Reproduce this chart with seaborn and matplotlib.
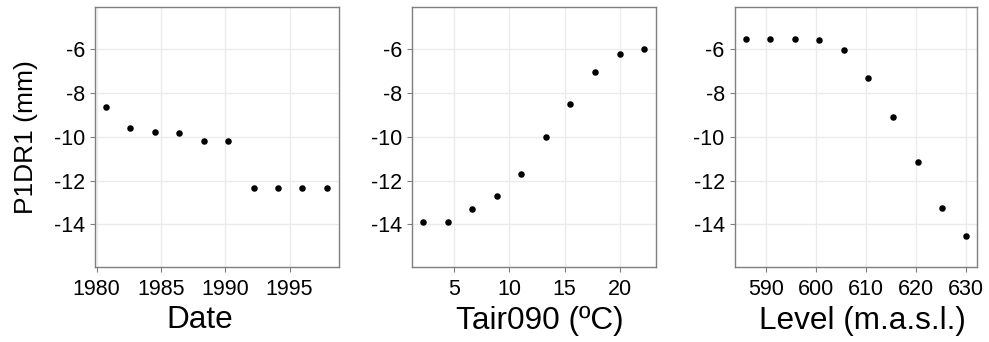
import matplotlib
matplotlib.use("Agg")
import matplotlib.pyplot as plt
import seaborn as sns
import pandas as pd

# Data
date = [1980.72, 1982.6, 1984.5, 1986.4, 1988.35, 1990.25, 1992.2, 1994.1, 1996.0, 1997.9]
p1dr1_date = [-8.65, -9.61, -9.80, -9.82, -10.17, -10.17, -12.32, -12.32, -12.32, -12.32]

tair = [2.23, 4.43, 6.63, 8.86, 11.09, 13.32, 15.51, 17.74, 19.97, 22.17]
p1dr1_tair = [-13.89, -13.89, -13.28, -12.71, -11.71, -10.02, -8.51, -7.05, -6.23, -5.97]

level = [585.9, 590.7, 595.7, 600.6, 605.5, 610.4, 615.4, 620.3, 625.2, 630.1]
p1dr1_level = [-5.53, -5.53, -5.53, -5.56, -6.02, -7.31, -9.08, -11.16, -13.25, -14.52]

xlabels = ["Date", "Tair090 (ºC)", "Level (m.a.s.l.)"]
ylabel = "P1DR1 (mm)"
yticks = [-6, -8, -10, -12, -14]
xticks_list = [[1980, 1985, 1990, 1995], [5, 10, 15, 20], [590, 600, 610, 620, 630]]

sns.set_theme(style="white")
plt.rcParams['font.family'] = ['Liberation Sans', 'DejaVu Sans']

fig = plt.figure(figsize=(9.89, 3.42), dpi=100)
W, H = 989, 342
boxes = [(95, 339), (412.3, 655.7), (734.7, 977.3)]
top, bottom = 7.3, 267
xlims = [(1979.87, 1998.85), (1.23, 23.22), (583.67, 632.27)]
label_cx = [0.430, 0.525, 0.527]
label_baseline = (bottom - 328.5) / (bottom - top)

datasets = [(date, p1dr1_date), (tair, p1dr1_tair), (level, p1dr1_level)]

for i, ((l, r), (xs, ys)) in enumerate(zip(boxes, datasets)):
    ax = fig.add_axes([l / W, 1 - bottom / H, (r - l) / W, (bottom - top) / H])
    df = pd.DataFrame({"x": xs, "y": ys})
    sns.scatterplot(data=df, x="x", y="y", ax=ax, color="black", s=22,
                    linewidth=0, zorder=3)
    ax.set_xlim(*xlims[i])
    ax.set_ylim(-15.95, -4.08)
    ax.set_xticks(xticks_list[i])
    ax.set_yticks(yticks)
    ax.set_yticklabels([str(v) for v in yticks])
    ax.grid(True, color="#ebebeb", linewidth=1.0, zorder=0)
    ax.set_axisbelow(True)
    for sp in ax.spines.values():
        sp.set_color("#7f7f7f")
        sp.set_linewidth(1.0)
        sp.set_visible(True)
    ax.tick_params(axis="both", which="major", direction="out", length=3.6,
                   width=0.8, color="#7f7f7f", labelsize=15.5, labelcolor="black",
                   bottom=True, left=True)
    ax.tick_params(axis="x", pad=5)
    ax.tick_params(axis="y", pad=3.6)
    ax.set_xlabel(xlabels[i], fontsize=22.7, color="black")
    ax.xaxis.label.set_va("baseline")
    ax.xaxis.set_label_coords(label_cx[i], label_baseline)
    if i == 0:
        ax.set_ylabel(ylabel, fontsize=19, labelpad=11.5, color="black")
    else:
        ax.set_ylabel("")

fig.savefig("out.png", dpi=100)
